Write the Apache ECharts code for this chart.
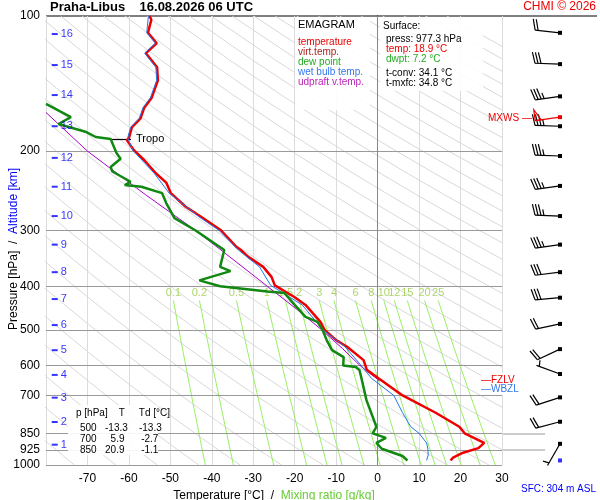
<!DOCTYPE html>
<html><head><meta charset="utf-8">
<script src="https://cdn.jsdelivr.net/npm/echarts@6/dist/echarts.min.js"></script>
<style>html,body{margin:0;padding:0;background:#fff}#c{width:600px;height:500px}</style>
</head><body><div id="c"></div>
<script>
// ---- data ----
const tempP = [100,102,109,115,121,130,139,152,160,169,177,187,189,199,209,224,235,248,266,280,300,326,332,344,362,381,398,423,440,480,500,527,546,584,614,641,700,765,822,850,893,917,939,963,977];
const tempT = [-55,-54.6,-55.4,-53.3,-55.9,-53.2,-53,-54.5,-56.3,-57.2,-59.3,-60,-60.5,-58.8,-56.4,-53.5,-51,-49.9,-46.3,-42.6,-37.8,-34.2,-33,-31.2,-27.6,-25.6,-24.8,-20,-17.4,-13.8,-12.8,-10,-7.3,-3.4,-2.6,0.2,6,14,19.7,21,25.7,24.3,20.6,18.2,17.6];
const dewP = [157,168,174,181,186,188,202,208,217,222,234,238,240,248,261,282,300,332,362,370,388,400,411,414,440,468,480,500,527,555,575,600,605,614,635,717,822,850,870,893,920,955,977];
const dewT = [-80,-74,-77,-70.5,-68,-64.4,-63,-62,-64.4,-64,-59.6,-61,-57,-52,-51,-49,-44,-37,-38,-35.5,-43,-38,-26.6,-22.5,-20,-17.4,-14.5,-13.3,-12.3,-11,-8.2,-8.3,-5.3,-4.4,-4,-2.7,-0.3,-1.2,2,-0.3,1,6,7.2];
const wbP = [100,109,115,121,130,139,152,160,169,177,187,199,224,248,280,300,332,362,398,440,500,546,600,641,700,765,822,850,893,917,950,977];
const wbT = [-55.3,-55.7,-53.6,-56.2,-53.5,-53.3,-54.8,-56.6,-57.5,-59.6,-60.3,-59.1,-53.9,-50.3,-43.1,-38.3,-33.6,-28.5,-25.8,-18.2,-13.2,-7.8,-4,-1.5,3.9,6,8,10,11.8,12.1,12.2,11.8];
const updP = [164,200,250,300,332,400,450,500,550,600,650];
const updT = [-80,-70,-56,-44,-37.8,-26.6,-19.5,-13.5,-8.5,-4.3,0.5];
const pLevels = [100,200,300,400,500,600,700,850,925,1000];
const tTicks = [-70,-60,-50,-40,-30,-20,-10,0,10,20,30];
const altKm = [1,2,3,4,5,6,7,8,9,10,11,12,13,14,15,16];
const altP = [901,802,708,630,555,488,427,372,323,279,240,207,176,150,128.6,109.7];
const mixW = [0.1,0.2,0.5,1,1.5,2,3,4,6,8,10,12,15,20,25];
const windP = [109,128,151,176,205,239,279,323,372,424,485,552,627,707,801,897];
const windDir = [276,272,262,272,272,262,272,262,263,265,258,245,290,252,255,210];
const windSpd = [20,30,35,35,35,35,35,35,30,30,20,20,5,20,20,5];
const mxwsP = 168, mxwsDir = 262, mxwsSpd = 50;

const L = Math.log10;
const pair = (T,P)=>T.map((t,i)=>[t,L(P[i])]);
const dryAd = [];
for (let th=200; th<=560; th+=10){
  const pts=[]; for(let p=100;p<=1000;p+=25) pts.push([th*Math.pow(p/1000,0.286)-273.15, L(p)]);
  dryAd.push({type:'line',data:pts,showSymbol:false,silent:true,lineStyle:{color:'#d8d8d8',width:1},z:1,animation:false});
}
function wT(w,p){const es=w*p/(622+w);const a=Math.log(es/6.112);return 243.5*a/(17.67-a);}
const mixSeries = mixW.map(w=>{const pts=[];for(let p=430;p<=1000;p+=30)pts.push([wT(w,p),L(p)]);pts.push([wT(w,1000),3]);
  return {type:'line',data:pts,showSymbol:false,silent:true,lineStyle:{color:'#99ee66',width:1},z:2,animation:false};});
const mixLabels = {type:'scatter',symbolSize:0,z:3,animation:false,data:mixW.map(w=>({value:[wT(w,430),L(414)],label:{show:true,formatter:String(w),color:'#99cc44',fontSize:11,position:'inside'}}))};

function barbRender(color){
  return function(params, api){
    const c=api.coord([60, api.value(0)]);
    const d=api.value(1)*Math.PI/180, s=api.value(2);
    const ux=Math.sin(d), uy=-Math.cos(d), px=-uy, py=ux, Ls=25;
    const e=[c[0]+ux*Ls,c[1]+uy*Ls];
    const ch=[{type:'line',shape:{x1:c[0],y1:c[1],x2:e[0],y2:e[1]},style:{stroke:color,lineWidth:1.2}},
      {type:'rect',shape:{x:c[0]-2,y:c[1]-2,width:4,height:4},style:{fill:color}}];
    let r=s,pos=0;
    while(r>=50){const a=[e[0]-ux*pos,e[1]-uy*pos],b=[e[0]-ux*(pos+6),e[1]-uy*(pos+6)];
      ch.push({type:'polygon',shape:{points:[a,[a[0]+px*11,a[1]+py*11],b]},style:{fill:'none',stroke:color,lineWidth:1.2}});pos+=7;r-=50;}
    while(r>=10){const a=[e[0]-ux*pos,e[1]-uy*pos];
      ch.push({type:'line',shape:{x1:a[0],y1:a[1],x2:a[0]+px*11+ux*3,y2:a[1]+py*11+uy*3},style:{stroke:color,lineWidth:1.2}});pos+=3;r-=10;}
    if(r>=5){if(pos===0)pos=3;const a=[e[0]-ux*pos,e[1]-uy*pos];
      ch.push({type:'line',shape:{x1:a[0],y1:a[1],x2:a[0]+px*6+ux*1.5,y2:a[1]+py*6+uy*1.5},style:{stroke:color,lineWidth:1.2}});}
    return {type:'group',children:ch};
  };
}

const yCommon = {type:'value',inverse:true,min:2,max:3,splitLine:{show:false},axisTick:{show:false}};
const hLines = {type:'line',data:[],z:2,silent:true,animation:false,markLine:{symbol:'none',silent:true,label:{show:false},lineStyle:{color:'#999',type:'solid',width:1},
  data:pLevels.slice(1).map(p=>[{coord:[-80,L(p)]},{coord:[30,L(p)]}])}};

const chart = echarts.init(document.getElementById('c'));
chart.setOption({
  animation:false,
  grid:[{left:46,right:98,top:16,bottom:35,outerBoundsMode:'none'},{left:500,right:0,top:16,bottom:35,outerBoundsMode:'none'}],
  xAxis:[{type:'value',min:-80,max:30,gridIndex:0,
      axisLine:{show:false},axisTick:{show:false},
      splitLine:{show:true,lineStyle:{color:'#dcdcdc'}},interval:10,
      axisLabel:{customValues:tTicks,color:'#000',fontSize:12,fontFamily:'Liberation Sans',margin:8},
      name:'{a|Temperature [°C]  /  }{b|Mixing ratio [g/kg]}',nameLocation:'middle',nameGap:22,
      nameTextStyle:{rich:{a:{color:'#000',fontSize:12,fontFamily:'Liberation Sans'},b:{color:'#66cc33',fontSize:12,fontFamily:'Liberation Sans'}}}},
    {type:'value',min:0,max:100,gridIndex:1,show:false}],
  yAxis:[Object.assign({},yCommon,{gridIndex:0,axisLine:{show:true,lineStyle:{color:'#000'}},
      axisLabel:{customValues:pLevels.map(L),formatter:v=>String(Math.round(Math.pow(10,v))),color:'#000',fontSize:12,fontFamily:'Liberation Sans',margin:6}}),
    Object.assign({},yCommon,{gridIndex:1,show:false})],
  series:[
    ...dryAd, ...mixSeries, mixLabels, hLines,
    {type:'line',data:[],markLine:{symbol:'none',silent:true,label:{show:false},lineStyle:{color:'#888',type:'solid',width:1},data:[[{coord:[0,2]},{coord:[0,3]}]]}},
    {type:'line',data:pair(updT,updP),showSymbol:false,lineStyle:{color:'#aa00cc',width:1},z:5},
    {type:'line',data:pair(tempT,tempP),showSymbol:false,lineStyle:{color:'#ee0000',width:2.5},z:6,
      markLine:{symbol:'none',silent:true,lineStyle:{color:'#000',type:'solid',width:1.2},label:{show:true,position:'end',formatter:'Tropo',color:'#000',fontSize:11,fontFamily:'Liberation Sans'},
      data:[[{coord:[-64.5,L(188)]},{coord:[-59.5,L(188)]}]]}},
    {type:'line',data:pair(wbT,wbP),showSymbol:false,lineStyle:{color:'#2277ee',width:1},z:7},
    {type:'line',data:pair(dewT,dewP),showSymbol:false,lineStyle:{color:'#118811',width:2.5},z:8},
    {type:'scatter',symbol:'rect',symbolSize:[6,2],itemStyle:{color:'#0000ff'},z:9,
      data:altP.map((p,i)=>({value:[-77.9,L(p)],label:{show:true,position:'right',distance:3,formatter:String(altKm[i]),color:'#0000ff',fontSize:11,fontFamily:'Liberation Sans'}}))},
    {type:'custom',xAxisIndex:1,yAxisIndex:1,renderItem:barbRender('#000'),data:windP.map((p,i)=>[L(p),windDir[i],windSpd[i]]),z:10,clip:false},
    {type:'custom',xAxisIndex:1,yAxisIndex:1,renderItem:barbRender('#ee0000'),data:[[L(mxwsP),mxwsDir,mxwsSpd]],z:11,clip:false},
    {type:'scatter',xAxisIndex:1,yAxisIndex:1,symbol:'rect',symbolSize:4,itemStyle:{color:'#0000ff'},data:[[60,L(977)]]}
  ],
  graphic:[
    {type:'line',shape:{x1:46,y1:16,x2:597,y2:16},style:{stroke:'#000',lineWidth:1}},
    {type:'line',shape:{x1:502,y1:434,x2:545,y2:434},style:{stroke:'#999',lineWidth:1}},
    {type:'line',shape:{x1:502,y1:450,x2:545,y2:450},style:{stroke:'#999',lineWidth:1}},
    {type:'text',x:8,y:330,rotation:Math.PI/2,style:{text:'{a|Pressure [hPa]  /  }{b|Altitude [km]}',rich:{a:{fill:'#000',font:'12px Liberation Sans'},b:{fill:'#0000ff',font:'12px Liberation Sans'}}}},
    {type:'text',left:50,top:1,style:{text:'Praha-Libus    16.08.2026 06 UTC',font:'bold 13px Liberation Sans',fill:'#000'}},
    {type:'text',right:4,top:1,style:{text:'CHMI © 2026',font:'12px Liberation Sans',fill:'#ee0000'}},
    {type:'text',right:4,bottom:6,style:{text:'SFC: 304 m ASL',font:'10px Liberation Sans',fill:'#0000ff'}},
    {type:'rect',shape:{x:295,y:17,width:75,height:93},style:{fill:'rgba(255,255,255,0.9)'},z:20},
    {type:'text',x:298,y:19,z:21,style:{text:'EMAGRAM',font:'11px Liberation Sans',fill:'#000'}},
    {type:'text',x:298,y:37,z:21,style:{text:'temperature',font:'10px Liberation Sans',fill:'#ee0000'}},
    {type:'text',x:298,y:47,z:21,style:{text:'virt.temp.',font:'10px Liberation Sans',fill:'#aa2222'}},
    {type:'text',x:298,y:57,z:21,style:{text:'dew point',font:'10px Liberation Sans',fill:'#22aa22'}},
    {type:'text',x:298,y:67,z:21,style:{text:'wet bulb temp.',font:'10px Liberation Sans',fill:'#3377ee'}},
    {type:'text',x:298,y:77,z:21,style:{text:'udpraft v.temp.',font:'10px Liberation Sans',fill:'#bb22bb'}},
    {type:'rect',shape:{x:380,y:17,width:103,height:74},style:{fill:'rgba(255,255,255,0.9)'},z:20},
    {type:'text',x:383,y:21,z:21,style:{text:'Surface:',font:'10px Liberation Sans',fill:'#000'}},
    {type:'text',x:386,y:34,z:21,style:{text:'press: 977.3 hPa',font:'10px Liberation Sans',fill:'#000'}},
    {type:'text',x:386,y:44,z:21,style:{text:'temp: 18.9 °C',font:'10px Liberation Sans',fill:'#ee0000'}},
    {type:'text',x:386,y:54,z:21,style:{text:'dwpt: 7.2 °C',font:'10px Liberation Sans',fill:'#22aa22'}},
    {type:'text',x:386,y:68,z:21,style:{text:'t-conv: 34.1 °C',font:'10px Liberation Sans',fill:'#000'}},
    {type:'text',x:386,y:78,z:21,style:{text:'t-mxfc: 34.8 °C',font:'10px Liberation Sans',fill:'#000'}},
    {type:'text',x:488,y:113,z:21,style:{text:'MXWS —',font:'10px Liberation Sans',fill:'#ee0000'}},
    {type:'rect',shape:{x:481,y:373,width:44,height:22},style:{fill:'rgba(255,255,255,0.9)'},z:20},
    {type:'text',x:481,y:375,z:21,style:{text:'—FZLV',font:'10px Liberation Sans',fill:'#ee0000'}},
    {type:'text',x:481,y:384,z:21,style:{text:'—WBZL',font:'10px Liberation Sans',fill:'#3377ee'}},
    {type:'rect',shape:{x:68,y:405,width:90,height:50},style:{fill:'rgba(255,255,255,0.9)'},z:20},
    {type:'text',x:76,y:408,z:21,style:{text:'p [hPa]    T     Td [°C]',font:'10px Liberation Sans',fill:'#000'}},
    {type:'text',x:80,y:423,z:21,style:{text:'500   -13.3    -13.3\n700     5.9      -2.7\n850   20.9      -1.1',font:'10px Liberation Sans',fill:'#000',lineHeight:11}}
  ]
});
</script></body></html>
